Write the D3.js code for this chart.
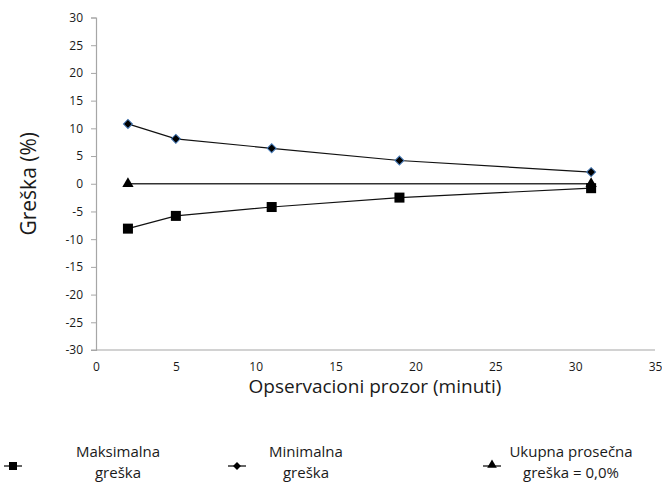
<!DOCTYPE html>
<html>
<head>
<meta charset="utf-8">
<script src="https://cdn.jsdelivr.net/npm/d3@7"></script>
<style>
  html, body { margin: 0; padding: 0; background: #fff; }
  svg { display: block; }
  text { font-family: "Open Sans", "Noto Sans", sans-serif; fill: #1a1a1a; }
</style>
</head>
<body>
<svg id="chart" width="662" height="484"></svg>
<script>
// Observation window (minutes)
const windowMinutes = [2, 5, 11, 19, 31];
// Error series (%)
const maxError = [-8.1, -5.8, -4.2, -2.5, -0.8];
const minError = [10.8, 8.1, 6.4, 4.2, 2.1];
const avgWindow = [2, 31];
const avgError = [0, 0];

const xTicks = [0, 5, 10, 15, 20, 25, 30, 35];
const yTicks = [-30, -25, -20, -15, -10, -5, 0, 5, 10, 15, 20, 25, 30];

const svg = d3.select("#chart");

const x = d3.scaleLinear().domain([0, 35]).range([96, 655]);
const y = d3.scaleLinear().domain([-30, 30]).range([350, 17.5]);
const plainNum = d => String(d);

// Y axis
const yAxis = svg.append("g")
  .attr("transform", `translate(${x(0)},0)`)
  .call(d3.axisLeft(y).tickValues(yTicks).tickSize(5).tickPadding(8).tickFormat(plainNum));
yAxis.select(".domain").attr("stroke", "#a6a6a6").attr("stroke-width", 1.2);
yAxis.selectAll(".tick line").attr("stroke", "#a6a6a6");
yAxis.selectAll(".tick text").style("font-size", "12px");

// X axis
const xAxis = svg.append("g")
  .attr("transform", `translate(0,${y(-30)})`)
  .call(d3.axisBottom(x).tickValues(xTicks).tickSize(0).tickPadding(12).tickFormat(plainNum));
xAxis.select(".domain").attr("stroke", "#a6a6a6").attr("stroke-width", 1.2)
  .attr("d", `M${x(0) - 5},0H${x(35)}`);
xAxis.selectAll(".tick text").style("font-size", "12px");

// Axis titles
svg.append("text")
  .attr("x", 375).attr("y", 393)
  .attr("text-anchor", "middle")
  .style("font-size", "19px")
  .text("Opservacioni prozor (minuti)");

svg.append("text")
  .attr("transform", `translate(36,${y(0)}) rotate(-90)`)
  .attr("text-anchor", "middle")
  .style("font-size", "21px")
  .text("Greška (%)");

const line = d3.line().x(d => x(d[0])).y(d => y(d[1]));

// Average error series
const avgPts = avgWindow.map((w, i) => [w, avgError[i]]);
svg.append("path").datum(avgPts).attr("d", line)
  .attr("fill", "none").attr("stroke", "#333").attr("stroke-width", 1.3);
const tri = d3.symbol().type(d3.symbolTriangle).size(55);
svg.selectAll(".avg").data(avgPts).enter().append("path")
  .attr("transform", d => `translate(${x(d[0])},${y(d[1])})`)
  .attr("d", tri).attr("fill", "#000");

// Minimal error series (rotated-square markers)
const minPts = windowMinutes.map((w, i) => [w, minError[i]]);
svg.append("path").datum(minPts).attr("d", line)
  .attr("fill", "none").attr("stroke", "#111").attr("stroke-width", 1.2);
svg.selectAll(".min").data(minPts).enter().append("rect")
  .attr("x", -3.2).attr("y", -3.2).attr("width", 6.4).attr("height", 6.4)
  .attr("transform", d => `translate(${x(d[0])},${y(d[1])}) rotate(45)`)
  .attr("fill", "#000").attr("stroke", "#4a7ebb").attr("stroke-width", 1);

// Maximal error series
const maxPts = windowMinutes.map((w, i) => [w, maxError[i]]);
svg.append("path").datum(maxPts).attr("d", line)
  .attr("fill", "none").attr("stroke", "#111").attr("stroke-width", 1.2);
svg.selectAll(".max").data(maxPts).enter().append("rect")
  .attr("x", d => x(d[0]) - 5).attr("y", d => y(d[1]) - 5)
  .attr("width", 10).attr("height", 10).attr("fill", "#000");

// Legend
const legendItems = [
  { lines: ["Maksimalna", "greška"], sym: "square", sx: 13, tx: 118 },
  { lines: ["Minimalna", "greška"], sym: "diamond", sx: 237, tx: 306 },
  { lines: ["Ukupna prosečna", "greška = 0,0%"], sym: "triangle", sx: 492, tx: 571 }
];
const lg = svg.append("g");
legendItems.forEach(it => {
  lg.append("line").attr("x1", it.sx - 9).attr("x2", it.sx + 9)
    .attr("y1", 466).attr("y2", 466).attr("stroke", "#000").attr("stroke-width", 1.2);
  if (it.sym === "square") {
    lg.append("rect").attr("x", it.sx - 4).attr("y", 462).attr("width", 8).attr("height", 8).attr("fill", "#000");
  } else if (it.sym === "diamond") {
    lg.append("rect").attr("x", -2.8).attr("y", -2.8).attr("width", 5.6).attr("height", 5.6)
      .attr("transform", `translate(${it.sx},466) rotate(45)`).attr("fill", "#000");
  } else {
    lg.append("path").attr("transform", `translate(${it.sx},465)`)
      .attr("d", d3.symbol().type(d3.symbolTriangle).size(40)).attr("fill", "#000");
  }
  it.lines.forEach((t, i) => {
    lg.append("text").attr("x", it.tx).attr("y", 457 + i * 21)
      .attr("text-anchor", "middle").style("font-size", "15px").text(t);
  });
});
</script>
</body>
</html>
